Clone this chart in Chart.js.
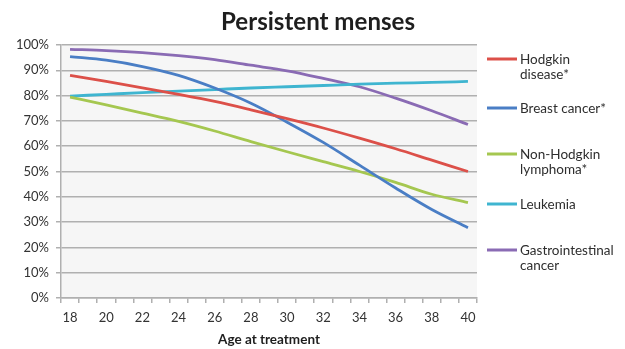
<!DOCTYPE html>
<html>
<head>
<meta charset="utf-8">
<script src="https://cdn.jsdelivr.net/npm/chart.js@4/dist/chart.umd.min.js"></script>
<style>
  html, body { margin: 0; padding: 0; background: #ffffff; }
  #wrap { width: 625px; height: 349px; }
</style>
</head>
<body>
<div id="wrap"><canvas id="c" width="625" height="349"></canvas></div>
<script>
// Age at treatment (years) on the category axis
const years = [18,19,20,21,22,23,24,25,26,27,28,29,30,31,32,33,34,35,36,37,38,39,40];
// Ages at which each curve is sampled
const ages = [18,20,22,24,26,28,30,32,34,36,38,40];

// Share of patients with persistent menses (%), by age at treatment
const hodgkin        = [88.0, 85.6, 83.1, 80.5, 77.7, 74.4, 70.9, 67.2, 63.2, 59.0, 54.5, 50.0];
const breast         = [95.4, 94.0, 91.5, 88.0, 83.0, 77.0, 69.5, 61.5, 52.5, 43.5, 35.0, 27.8];
const nonHodgkin     = [79.4, 76.3, 73.1, 69.8, 66.0, 61.8, 57.8, 53.9, 50.0, 45.7, 41.0, 37.7];
const leukemia       = [79.8, 80.5, 81.2, 81.8, 82.4, 83.0, 83.5, 84.0, 84.5, 84.9, 85.2, 85.6];
const gastro         = [98.3, 97.8, 97.0, 95.8, 94.2, 92.0, 89.8, 86.8, 83.5, 79.0, 74.0, 68.6];

// Legend text, one entry per line
const seriesNames = [
  ['Hodgkin', 'disease*'],
  ['Breast cancer*'],
  ['Non-Hodgkin', 'lymphoma*'],
  ['Leukemia'],
  ['Gastrointestinal', 'cancer']
];
const seriesValues = [hodgkin, breast, nonHodgkin, leukemia, gastro];
const seriesColors = ['#dc5049', '#4a7ec5', '#a5c750', '#3fb5d0', '#8a6bb4'];

const yTicks = [0,10,20,30,40,50,60,70,80,90,100];
const chartTitle = 'Persistent menses';
const xTitle = 'Age at treatment';

const FONT = 'Lato, "Open Sans", sans-serif';

const datasets = seriesValues.map((vals, i) => ({
  label: seriesNames[i].join(' '),
  data: ages.map((a, j) => ({ x: String(a), y: vals[j] })),
  borderColor: seriesColors[i],
  backgroundColor: seriesColors[i],
  borderWidth: 2.8,
  pointRadius: 0,
  pointHoverRadius: 0,
  cubicInterpolationMode: 'monotone',
  fill: false
}));

// Plot-area shading, heading and the right-hand key
const decorations = {
  id: 'decorations',
  beforeDraw(chart) {
    const { ctx, chartArea: a } = chart;
    ctx.save();
    ctx.fillStyle = '#f6f6f6';
    ctx.fillRect(a.left, a.top, a.right - a.left, a.bottom - a.top);
    ctx.restore();
  },
  afterDraw(chart) {
    const { ctx } = chart;
    ctx.save();
    // heading
    ctx.font = 'bold 24px ' + FONT;
    ctx.fillStyle = '#1e1e1e';
    ctx.textBaseline = 'alphabetic';
    ctx.textAlign = 'left';
    const w = ctx.measureText(chartTitle).width;
    const targetW = 194;
    const sx = targetW / w;
    ctx.translate(318 - targetW / 2, 29.5);
    ctx.scale(sx, 1);
    ctx.fillText(chartTitle, 0, 0);
    ctx.restore();

    // key
    const rows = [59, 108, 154, 204, 250];
    ctx.save();
    ctx.font = '13.5px ' + FONT;
    ctx.fillStyle = '#2e2e2e';
    ctx.textBaseline = 'middle';
    ctx.textAlign = 'left';
    chart.data.datasets.forEach((ds, i) => {
      const y = rows[i];
      ctx.strokeStyle = ds.borderColor;
      ctx.lineWidth = 3;
      ctx.beginPath();
      ctx.moveTo(487, y);
      ctx.lineTo(517, y);
      ctx.stroke();
      seriesNames[i].forEach((line, k) => {
        ctx.fillText(line, 520, y + 1 + k * 14.5);
      });
    });
    ctx.restore();
  }
};

new Chart(document.getElementById('c'), {
  type: 'line',
  data: { labels: years.map(String), datasets },
  options: {
    responsive: false,
    devicePixelRatio: 1,
    animation: false,
    layout: { padding: { left: 0, right: 148, top: 45, bottom: 0 } },
    plugins: {
      legend: { display: false },
      title: { display: false },
      tooltip: { enabled: false }
    },
    scales: {
      x: {
        type: 'category',
        offset: true,
        grid: {
          offset: true,
          drawOnChartArea: false,
          drawTicks: true,
          tickLength: 5,
          color: '#b0b0b0',
          lineWidth: 1.5
        },
        border: { display: true, color: '#b0b0b0', width: 1.5 },
        ticks: {
          autoSkip: false,
          maxRotation: 0,
          padding: 7,
          color: '#333333',
          font: { family: FONT, size: 13 },
          callback: function (v, i) { return years[i] % 2 === 0 ? String(years[i]) : ''; }
        },
        title: {
          display: true,
          text: xTitle,
          color: '#1e1e1e',
          font: { family: FONT, size: 13.5, weight: 'bold' },
          padding: { top: 2, bottom: 1 }
        },
        afterFit(scale) { scale.height = 51; }
      },
      y: {
        min: 0,
        max: 100,
        afterBuildTicks(scale) { scale.ticks = yTicks.map(v => ({ value: v })); },
        grid: {
          color: '#b0b0b0',
          lineWidth: 1.5,
          tickLength: 5,
          drawTicks: true
        },
        border: { display: true, color: '#b0b0b0', width: 1.5 },
        ticks: {
          padding: 7,
          color: '#333333',
          font: { family: FONT, size: 13 },
          callback: v => v + '%'
        },
        afterFit(scale) { scale.width = 61; }
      }
    }
  },
  plugins: [decorations]
});
</script>
</body>
</html>
